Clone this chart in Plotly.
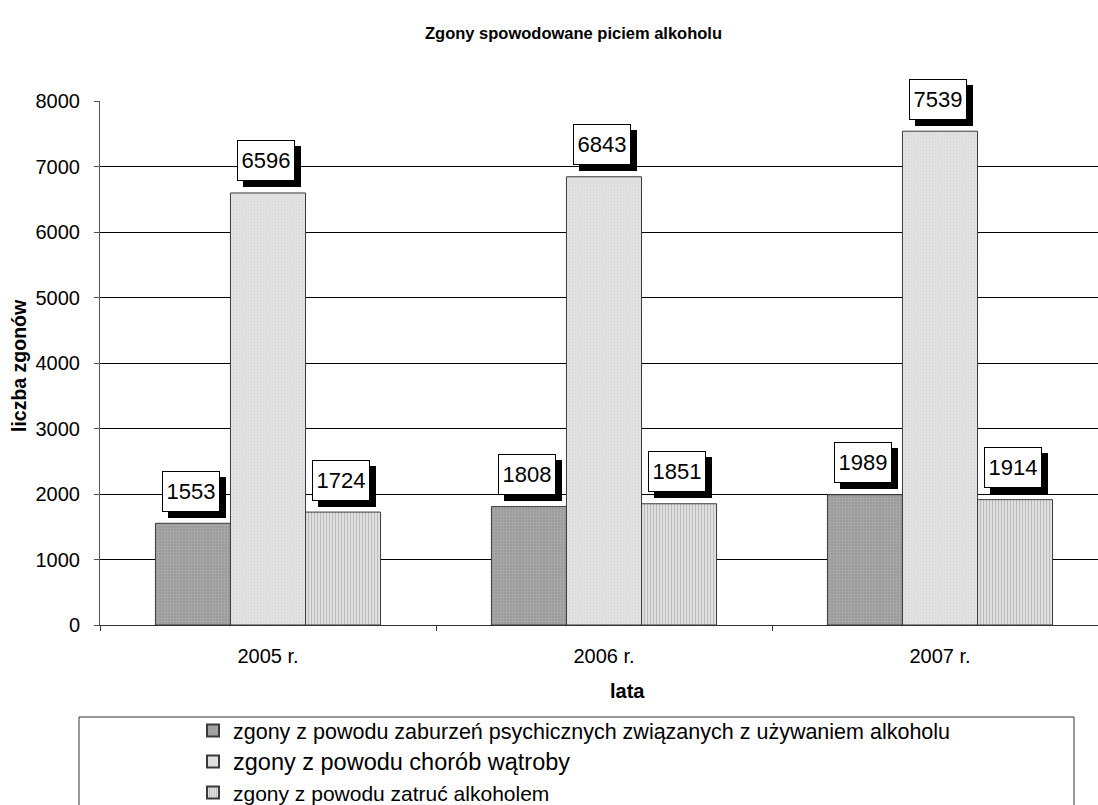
import plotly.graph_objects as go

# Data
years = ["2005 r.", "2006 r.", "2007 r."]
psychiczne = [1553, 1808, 1989]
watroba = [6596, 6843, 7539]
zatrucia = [1724, 1851, 1914]

series_names = [
    "zgony z powodu zaburzeń psychicznych związanych z używaniem alkoholu",
    "<span style='font-size:23.5px'>zgony z powodu chorób wątroby</span>",
    "<span style='font-size:21px'>zgony z powodu zatruć alkoholem</span>",
]

W, H = 1098, 805
L, R, T, B = 100, 0, 101, 180
FONT = "Liberation Sans, Arial, sans-serif"

patterns = [
    dict(shape=".", bgcolor="#9a9a9a", fgcolor="#c4c4c4", size=3, solidity=0.35),
    dict(shape=".", bgcolor="#e2e2e2", fgcolor="#cfcfcf", size=3, solidity=0.35),
    dict(shape="|", bgcolor="#ececec", fgcolor="#8a8a8a", size=3, solidity=0.5),
]

fig = go.Figure()
for name, vals, pat in zip(series_names, [psychiczne, watroba, zatrucia], patterns):
    fig.add_trace(go.Bar(
        x=years, y=vals, name=name,
        marker=dict(color=pat["bgcolor"], pattern=pat,
                    line=dict(color="#3a3a3a", width=1)),
    ))

# value labels: white boxes with a black drop shadow
bargap = 0.33
bw = (1 - bargap) / 3
for k, vals in enumerate([psychiczne, watroba, zatrucia]):
    for i, v in enumerate(vals):
        xpos = i + (k - 1) * bw
        common = dict(x=xpos, y=v, xref="x", yref="y", showarrow=False,
                      width=56, height=39, borderpad=0, borderwidth=1,
                      yanchor="middle", xanchor="center",
                      font=dict(family=FONT, size=22, color="black"))
        fig.add_annotation(text="", bgcolor="black", bordercolor="black",
                           xshift=4, yshift=26, **common)
        fig.add_annotation(text=str(v), bgcolor="white", bordercolor="black",
                           xshift=-2, yshift=32, **common)

def px_x(p):
    return (p - L) / (W - L - R)

def px_y(p):
    return (H - B - p) / (H - T - B)

# titles
fig.add_annotation(text="<b>Zgony spowodowane piciem alkoholu</b>", xref="paper", yref="paper",
                   x=px_x(573), y=px_y(33), showarrow=False,
                   xanchor="center", yanchor="middle",
                   font=dict(family=FONT, size=16.5, color="black"))
fig.add_annotation(text="<b>lata</b>", xref="paper", yref="paper",
                   x=px_x(627), y=px_y(691), showarrow=False,
                   xanchor="center", yanchor="middle",
                   font=dict(family=FONT, size=20, color="black"))
fig.add_annotation(text="<b>liczba zgonów</b>", xref="paper", yref="paper",
                   x=px_x(19), y=px_y(366), showarrow=False, textangle=-90,
                   xanchor="center", yanchor="middle",
                   font=dict(family=FONT, size=19.5, color="black"))

# legend frame
fig.add_shape(type="rect", xref="paper", yref="paper",
              x0=px_x(79), x1=px_x(1074), y0=px_y(717), y1=px_y(830),
              line=dict(color="#333333", width=1), fillcolor="rgba(0,0,0,0)")

fig.update_layout(
    width=W, height=H, autosize=False,
    margin=dict(l=L, r=R, t=T, b=B, autoexpand=False),
    paper_bgcolor="white", plot_bgcolor="white",
    barmode="group", bargap=bargap, bargroupgap=0,
    font=dict(family=FONT, size=20, color="black"),
    showlegend=True,
    legend=dict(xref="container", yref="container",
                x=193 / W, y=1 - 710 / H, xanchor="left", yanchor="top",
                bgcolor="rgba(0,0,0,0)", borderwidth=0,
                font=dict(family=FONT, size=21.5, color="black"),
                tracegroupgap=0, itemsizing="constant"),
    xaxis=dict(type="category", range=[-0.5, 2.5 - 10 / 336],
               showline=True, linecolor="#333333", linewidth=1,
               ticks="outside", tickson="boundaries", ticklen=5, tickcolor="#333333",
               showgrid=False, ticklabelstandoff=13,
               tickfont=dict(family=FONT, size=20, color="black")),
    yaxis=dict(range=[0, 8000], dtick=1000, tick0=0,
               showline=True, linecolor="#555555", linewidth=1,
               ticks="outside", ticklen=5, tickcolor="#555555",
               showgrid=True, gridcolor="black", gridwidth=1,
               zeroline=False, ticklabelstandoff=10,
               tickfont=dict(family=FONT, size=20, color="black")),
)

fig.write_html("out.html")
